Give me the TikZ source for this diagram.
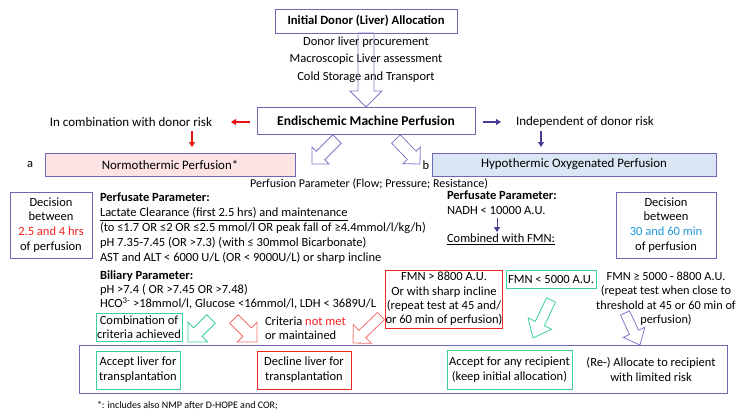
\documentclass[tikz,border=0pt]{standalone}
\usepackage{fontspec}
\setmainfont{Carlito}
\usetikzlibrary{calc,arrows.meta}
\definecolor{pbord}{RGB}{112,102,180}
\definecolor{sblue}{RGB}{72,60,150}
\definecolor{sred}{RGB}{232,20,20}
\definecolor{pinkfill}{RGB}{252,228,228}
\definecolor{bluefill}{RGB}{218,230,243}
\definecolor{gbord}{RGB}{60,210,150}
\definecolor{rbord}{RGB}{235,40,40}
\definecolor{lred}{RGB}{245,110,110}
\definecolor{tblue}{RGB}{30,150,220}
\definecolor{tred}{RGB}{240,30,30}
\definecolor{hpurp}{RGB}{130,120,200}
\newcommand\harrow[6]{%
 \coordinate (hab) at ($(#3)!#6!(#2)$);
 \draw[#1] ($(#2)!#4!90:(#3)$) -- ($(hab)!#4!90:(#3)$) -- ($(hab)!#5!90:(#3)$) -- (#3)
   -- ($(hab)!#5!-90:(#3)$) -- ($(hab)!#4!-90:(#3)$) -- ($(#2)!#4!-90:(#3)$) -- cycle;}
\tikzset{
 every node/.style={inner sep=0pt, outer sep=0pt},
 txt/.style={font=\fontsize{12.5}{15}\selectfont, align=center},
 ltxt/.style={font=\fontsize{12.5}{15}\selectfont, align=left},
 pbox/.style={draw=pbord, line width=1pt},
 gbox/.style={draw=gbord, line width=1pt},
 rbox/.style={draw=rbord, line width=1pt},
 redarr/.style={draw=sred, line width=1.6pt, -{Triangle[length=5pt,width=6pt]}},
 bluearr/.style={draw=sblue, line width=1.3pt, -{Triangle[length=5pt,width=6pt]}},
 hollowp/.style={draw=hpurp, line width=0.8pt},
 hollowg/.style={draw=gbord, line width=0.8pt},
 hollowr/.style={draw=lred, line width=0.8pt},
}
\begin{document}
\begin{tikzpicture}[x=1pt,y=-1pt]
\useasboundingbox (0,0) rectangle (736,416);
% top
\node[pbox, minimum width=182pt, minimum height=24pt, font=\fontsize{12.6}{14}\selectfont\bfseries] (top) at (366,21) {Initial Donor (Liver) Allocation};
\node[txt] (l1) at (366,42) {Donor liver procurement};
\node[txt] (l2) at (366,59) {Macroscopic Liver assessment};
\node[txt] (l3) at (366,77) {Cold Storage and Transport};
\node[pbox, minimum width=218pt, minimum height=27pt, font=\fontsize{13.5}{15}\selectfont\bfseries] (endo) at (366,120.5) {Endischemic Machine Perfusion};
\harrow{hollowp}{top.south}{endo.north}{8pt}{16pt}{16pt}
% side texts
\node[txt, anchor=east, font=\fontsize{13}{15}\selectfont] (comb) at (212,122) {In combination with donor risk};
\node[txt, anchor=west, font=\fontsize{13}{15}\selectfont] (indep) at (516,122) {Independent of donor risk};
\coordinate (ra1) at (250,122); \coordinate (ra2) at (231,122);
\draw[redarr] (ra1) -- (ra2);
\coordinate (ba1) at (483,122); \coordinate (ba2) at (501,122);
\draw[bluearr] (ba1) -- (ba2);
% perfusion boxes
\node[pbox, fill=pinkfill, minimum width=250pt, minimum height=23pt, font=\fontsize{12.9}{14}\selectfont] (nmp) at (170,164.5) {Normothermic Perfusion*};
\node[pbox, fill=bluefill, minimum width=284pt, minimum height=23pt, font=\fontsize{12.9}{14}\selectfont] (hope) at (574,164.5) {Hypothermic Oxygenated Perfusion};
\node[txt] (a) at (30,165) {a};
\node[txt] (b) at (426,165) {b};
\coordinate (rd1) at (192,131); \coordinate (rd2) at (192,147);
\draw[redarr] (rd1) -- (rd2);
\coordinate (bd1) at (541,131); \coordinate (bd2) at (541,147);
\draw[bluearr] (bd1) -- (bd2);
\coordinate (t1) at (337,139); \coordinate (p1) at (312,164);
\harrow{hollowp}{t1}{p1}{6pt}{12pt}{12pt}
\coordinate (t2) at (396,139); \coordinate (p2) at (420,164);
\harrow{hollowp}{t2}{p2}{6pt}{12pt}{12pt}
\node[txt, font=\fontsize{12}{15}\selectfont] (pp) at (369,184) {Perfusion Parameter (Flow; Pressure; Resistance)};
% left decision
\node[pbox, minimum width=82pt, minimum height=66pt, txt, font=\fontsize{12.5}{14.7}\selectfont] (decl) at (51,225) {Decision\\between\\\textcolor{tred}{2.5 and 4 hrs}\\of perfusion};
\node[ltxt, anchor=north west] (perf) at (100,193) {\textbf{Perfusate Parameter:}\\
\underline{Lactate Clearance (first 2.5 hrs) and maintenance}\\
(to ≤1.7 OR ≤2 OR ≤2.5 mmol/l OR peak fall of ≥4.4mmol/l/kg/h)\\
pH 7.35-7.45 (OR >7.3) (with ≤ 30mmol Bicarbonate)\\
AST and ALT < 6000 U/L (OR < 9000U/L) or sharp incline};
\node[ltxt, anchor=north west, font=\fontsize{12.5}{14}\selectfont] (bil) at (100,271) {\textbf{Biliary Parameter:}\\
pH >7.4 ( OR >7.45 OR >7.48)\\
HCO\textsuperscript{3-} >18mmol/l, Glucose <16mmol/l, LDH < 3689U/L};
% right
\node[ltxt, anchor=north west] (perf2) at (447,191) {\textbf{Perfusate Parameter:}\\NADH < 10000 A.U.};
\node[ltxt, anchor=west] (cwf) at (447,239) {\underline{Combined with FMN:}};
\coordinate (sa1) at (497,218); \coordinate (sa2) at (497,232);
\draw[bluearr, line width=1pt] (sa1) -- (sa2);
\node[pbox, minimum width=100pt, minimum height=66pt, txt, font=\fontsize{12.5}{14.7}\selectfont] (decr) at (666,225) {Decision\\between\\\textcolor{tblue}{30 and 60 min}\\of perfusion};
% criteria
\node[gbox, minimum width=86pt, minimum height=28pt, txt, font=\fontsize{12.5}{14}\selectfont] (crit) at (139,327) {Combination of\\criteria achieved};
\node[ltxt, anchor=west, font=\fontsize{12.5}{14}\selectfont] (notmet) at (265,328) {Criteria \textcolor{tred}{not met}\\or maintained};
\node[rbox, minimum width=114pt, minimum height=58pt, txt, font=\fontsize{12.5}{14.3}\selectfont] (f1) at (444,299) {FMN > 8800 A.U.\\Or with sharp incline\\(repeat test at 45 and/\\or 60 min of perfusion)};
\node[gbox, minimum width=90pt, minimum height=18pt, txt] (f2) at (551,279) {FMN < 5000 A.U.};
\node[txt, anchor=north, font=\fontsize{12.3}{14.3}\selectfont] (f3) at (666,272) {FMN ≥ 5000 - 8800 A.U.\\(repeat test when close to\\threshold at 45 or 60 min of\\perfusion)};
% bottom
\node[pbox, minimum width=648pt, minimum height=48pt] (bot) at (403,369) {};
\node[gbox, minimum width=84pt, minimum height=38pt, txt] (acc) at (138,370) {Accept liver for\\transplantation};
\node[rbox, minimum width=94pt, minimum height=38pt, txt] (dec) at (304,370) {Decline liver for\\transplantation};
\node[gbox, minimum width=125pt, minimum height=39pt, txt] (any) at (509.5,369.5) {Accept for any recipient\\(keep initial allocation)};
\node[txt] (realloc) at (651,369) {(Re-) Allocate to recipient\\with limited risk};
% arrows to bottom
\coordinate (t3) at (211,319); \coordinate (p3) at (188,342);
\harrow{hollowg}{t3}{p3}{6pt}{14pt}{14pt}
\coordinate (t4) at (234,319); \coordinate (p4) at (257,342);
\harrow{hollowr}{t4}{p4}{6pt}{14pt}{14pt}
\coordinate (t5) at (381,316); \coordinate (p5) at (353,343);
\harrow{hollowr}{t5}{p5}{5pt}{13pt}{13pt}
\coordinate (t6) at (551,300); \coordinate (p6) at (533,338);
\harrow{hollowg}{t6}{p6}{5pt}{13pt}{16pt}
\coordinate (t7) at (625,313); \coordinate (p7) at (640,345);
\harrow{hollowp}{t7}{p7}{5pt}{12pt}{14pt}
% footnote
\node[anchor=west, font=\fontsize{10}{12}\selectfont] (fn) at (97,406) {*: includes also NMP after D-HOPE and COR;};
\end{tikzpicture}
\end{document}
